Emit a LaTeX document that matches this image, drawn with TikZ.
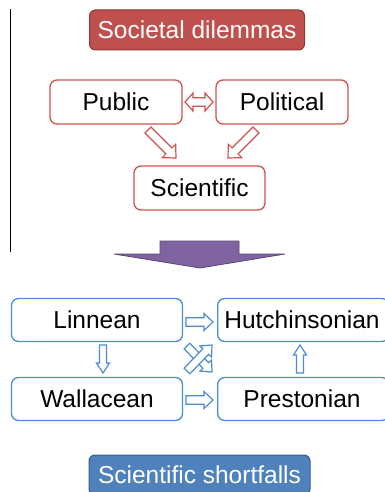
\documentclass[tikz,border=0pt]{standalone}
\usepackage{fontspec}
\setmainfont{Liberation Sans}
\usetikzlibrary{calc}
\definecolor{redline}{RGB}{208,82,80}
\definecolor{redfill}{RGB}{192,80,77}
\definecolor{redborder}{RGB}{140,56,54}
\definecolor{blueline}{RGB}{75,140,210}
\definecolor{bluefill}{RGB}{79,129,189}
\definecolor{blueborder}{RGB}{56,93,138}
\definecolor{purplefill}{RGB}{128,100,162}
\definecolor{purpleborder}{RGB}{92,71,118}
% single block arrow: #1 style, #2 A, #3 B, #4 shaft half, #5 head half, #6 head length
\newcommand\blockarrow[6]{%
  \coordinate (bahA) at (#2); \coordinate (bahB) at (#3);
  \coordinate (bahH) at ($(bahB)!#6!(bahA)$);
  \draw[#1] ($(bahA)!#4!90:(bahB)$) -- ($(bahH)!#4!90:(bahB)$) -- ($(bahH)!#5!90:(bahB)$)
    -- (bahB) -- ($(bahH)!#5!-90:(bahB)$) -- ($(bahH)!#4!-90:(bahB)$) -- ($(bahA)!#4!-90:(bahB)$) -- cycle;}
% double block arrow
\newcommand\dblockarrow[6]{%
  \coordinate (bahA) at (#2); \coordinate (bahB) at (#3);
  \coordinate (bahH) at ($(bahB)!#6!(bahA)$);
  \coordinate (bahG) at ($(bahA)!#6!(bahB)$);
  \draw[#1] (bahA) -- ($(bahG)!#5!90:(bahB)$) -- ($(bahG)!#4!90:(bahB)$) -- ($(bahH)!#4!90:(bahB)$)
    -- ($(bahH)!#5!90:(bahB)$) -- (bahB) -- ($(bahH)!#5!-90:(bahB)$) -- ($(bahH)!#4!-90:(bahB)$)
    -- ($(bahG)!#4!-90:(bahB)$) -- ($(bahG)!#5!-90:(bahB)$) -- cycle;}
\tikzset{
  txt/.style={font=\fontsize{24.5}{28}\selectfont, inner sep=0pt},
  redbox/.style={txt, draw=redline, line width=1.3pt, rounded corners=7pt, fill=white},
  bluebox/.style={txt, draw=blueline, line width=1.3pt, rounded corners=7pt, fill=white},
  redarr/.style={draw=redline, line width=1.2pt, fill=white, line join=miter},
  bluearr/.style={draw=blueline, line width=1.2pt, fill=white, line join=miter},
}
\begin{document}
\begin{tikzpicture}[x=1pt,y=-1pt]
\useasboundingbox (0,0) rectangle (385,492);
% vertical line
\coordinate (vtop) at (10,9);
\coordinate (vbot) at (10,252);
\draw[black, line width=1pt] (vtop) -- (vbot);
% top header
\node[txt, fill=redfill, draw=redborder, line width=1pt, rounded corners=6pt, text=white,
  minimum width=215pt, minimum height=40pt] (soc) at (197,30) {Societal dilemmas};
\node[redbox, minimum width=132pt, minimum height=44pt] (pub) at (116,102) {Public};
\node[redbox, minimum width=132pt, minimum height=44pt] (pol) at (282,102) {Political};
\node[redbox, minimum width=131pt, minimum height=44pt] (sci) at (199.5,188) {Scientific};
\dblockarrow{redarr}{185,102}{213,102}{4.3pt}{9pt}{8pt}
\coordinate (pa) at (148,130); \coordinate (pb) at (176,158);
\blockarrow{redarr}{pa}{pb}{4.3pt}{9.5pt}{10pt}
\coordinate (qa) at (256,130); \coordinate (qb) at (228,158);
\blockarrow{redarr}{qa}{qb}{4.3pt}{9.5pt}{10pt}
% purple arrow
\draw[fill=purplefill, draw=purpleborder, line width=0.8pt, line join=miter]
  (160,241) -- (239,241) -- (239,254) -- (285,254) -- (200,268) -- (114,254) -- (160,254) -- cycle;
% lower boxes
\node[bluebox, minimum width=171pt, minimum height=43pt] (lin) at (97,320) {Linnean};
\node[bluebox, minimum width=171pt, minimum height=43pt, anchor=west] (hut) at (217,320) {};
\node[txt] (huttxt) at (302,320) {Hutchinsonian};
\node[bluebox, minimum width=171pt, minimum height=43pt] (wal) at (97,399) {Wallacean};
\node[bluebox, minimum width=171pt, minimum height=43pt, anchor=west] (pre) at (217,399) {};
\node[txt] (pretxt) at (302,399) {Prestonian};
\blockarrow{bluearr}{186,322}{213,322}{4.3pt}{8.5pt}{9pt}
\blockarrow{bluearr}{186,400}{213,400}{4.3pt}{8.5pt}{9pt}
\blockarrow{bluearr}{103,345}{103,373}{3.5pt}{6.5pt}{10pt}
\blockarrow{bluearr}{300,373}{300,345}{3.5pt}{6.5pt}{10pt}
\blockarrow{bluearr}{187,346}{212,372}{4pt}{8pt}{9pt}
\blockarrow{bluearr}{187,371}{212,345}{4pt}{8pt}{9pt}
% bottom label
\node[txt, fill=bluefill, draw=blueborder, line width=1pt, rounded corners=6pt, text=white,
  minimum width=221pt, minimum height=40pt] (sf) at (199.5,475) {Scientific shortfalls};
\end{tikzpicture}
\end{document}
